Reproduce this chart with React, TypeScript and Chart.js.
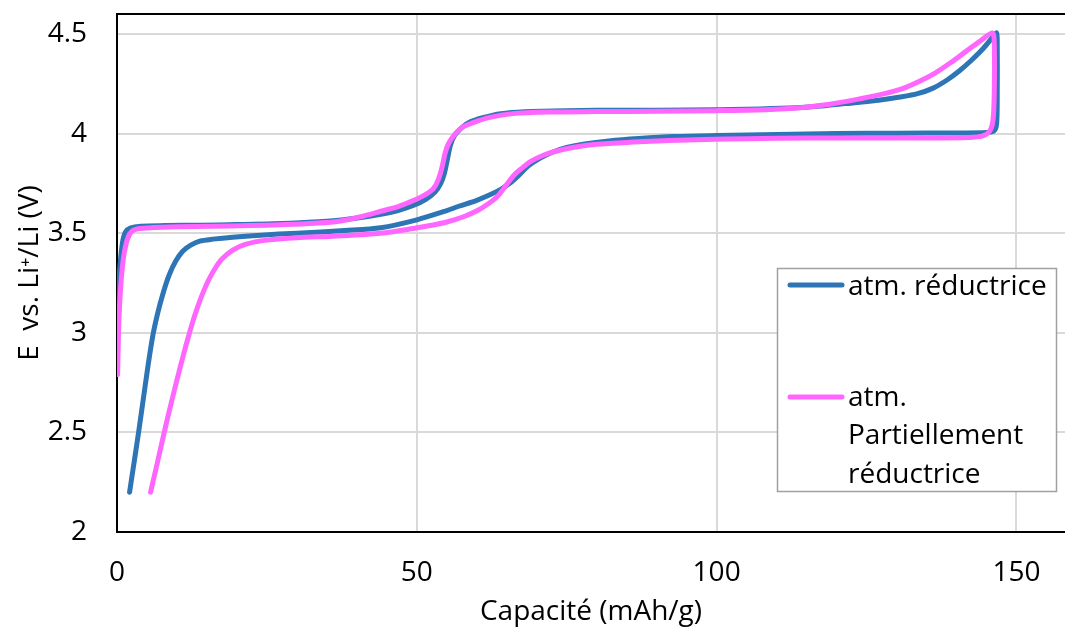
import { useEffect, useRef } from 'react';
import { Chart, registerables } from 'chart.js';

Chart.register(...registerables);

const FONT = "'Open Sans', 'Liberation Sans', sans-serif";

const xTicks = [0, 50, 100, 150];
const yTicks = [2, 2.5, 3, 3.5, 4, 4.5];

const seriesNames = ['atm. réductrice', 'atm. Partiellement réductrice'];
const legendLines = [['atm. réductrice'], ['atm.', 'Partiellement', 'réductrice']];
const seriesColors = ['#2E75B6', '#FF66FF'];

// atm. réductrice — charge up to 4.5 V, then discharge back down to 2.2 V
const reducCap = [
  0, 0.4, 0.9, 1.4, 2.2, 4, 8, 14, 20, 26, 32, 37, 41, 44, 47, 49.5, 51.5, 53, 54, 54.6,
  55.1, 55.6, 56.3, 57.5, 59, 61, 64, 68, 75, 85, 95, 105, 112, 118, 123, 127, 130.6, 133.5,
  136.1, 138.5, 140.5, 142.5, 144.5, 146.2, 146.7,
  146.8, 146.8, 146.7, 146.3, 145, 140, 130, 120, 110, 100, 93, 87, 82, 78, 75, 72.5, 70.5,
  68.5, 67, 65.5, 64, 62, 60, 57, 54.9, 50, 44, 38, 30, 24, 19.3, 16, 13.8, 12.3, 11, 9.8,
  8.7, 7.7, 6.8, 6.0, 5.2, 4.4, 3.6, 2.85, 2.1,
];
const reducVolt = [
  3.1, 3.3, 3.45, 3.505, 3.525, 3.535, 3.538, 3.54, 3.543, 3.547, 3.555, 3.565, 3.58, 3.595,
  3.615, 3.64, 3.67, 3.705, 3.75, 3.8, 3.87, 3.94, 3.99, 4.03, 4.06, 4.08, 4.1, 4.11, 4.115,
  4.117, 4.118, 4.122, 4.128, 4.14, 4.155, 4.167, 4.183, 4.2, 4.228, 4.27, 4.315, 4.368,
  4.428, 4.49, 4.505,
  4.45, 4.2, 4.05, 4.015, 4.005, 4.003, 4.002, 4.0, 3.995, 3.99, 3.985, 3.975, 3.963, 3.948,
  3.93, 3.905, 3.875, 3.835, 3.79, 3.75, 3.72, 3.69, 3.665, 3.635, 3.612, 3.567, 3.527,
  3.513, 3.5, 3.49, 3.48, 3.47, 3.46, 3.44, 3.41, 3.36, 3.29, 3.2, 3.1, 2.99, 2.84, 2.67,
  2.5, 2.35, 2.2,
];

// atm. Partiellement réductrice — charge then discharge
const partCap = [
  0.1, 0.25, 0.45, 0.8, 1.2, 1.8, 2.5, 3.5, 6, 10, 16, 22, 28, 33, 37, 41, 44, 47, 49.5,
  51.5, 52.8, 53.6, 54.2, 54.7, 55.3, 56.3, 57.5, 59.4, 62, 66, 72, 80, 90, 100, 108, 114,
  119.4, 124, 128, 131, 134, 136.5, 139, 141.7, 144, 146,
  146.3, 146.3, 146.1, 145.6, 144.5, 142, 135, 125, 115, 105, 98, 92, 86, 80, 76, 73, 71,
  69, 67.7, 66.5, 65.5, 64.4, 63.3, 61.8, 60.2, 58, 55, 52, 49.4, 44, 36, 30, 25, 21.5,
  19.3, 17.5, 16.4, 15.2, 14, 13, 12, 11, 9.8, 8.5, 7.8, 6.9, 5.6,
];
const partVolt = [
  2.79, 3.0, 3.15, 3.3, 3.4, 3.475, 3.51, 3.522, 3.528, 3.532, 3.535, 3.538, 3.543, 3.55,
  3.56, 3.585, 3.61, 3.635, 3.665, 3.695, 3.725, 3.77, 3.83, 3.9, 3.95, 3.995, 4.03, 4.055,
  4.08, 4.1, 4.108, 4.11, 4.112, 4.115, 4.12, 4.13, 4.15, 4.175, 4.2, 4.225, 4.265, 4.305,
  4.355, 4.415, 4.465, 4.505,
  4.45, 4.2, 4.07, 4.015, 3.99, 3.98, 3.978, 3.978, 3.977, 3.974, 3.97, 3.965, 3.957, 3.946,
  3.93, 3.91, 3.89, 3.86, 3.83, 3.8, 3.765, 3.72, 3.68, 3.645, 3.615, 3.585, 3.556, 3.537,
  3.523, 3.5, 3.485, 3.477, 3.465, 3.445, 3.415, 3.37, 3.325, 3.26, 3.175, 3.09, 2.99, 2.88,
  2.74, 2.58, 2.49, 2.37, 2.2,
];

const toPoints = (xs: number[], ys: number[]) => xs.map((x, i) => ({ x, y: ys[i] }));

// Frame line along the top of the plot area and the boxed legend
const framePlugin = {
  id: 'frameAndLegend',
  afterDraw(chart: any) {
    const { ctx, chartArea } = chart;
    ctx.save();
    ctx.strokeStyle = '#000';
    ctx.lineWidth = 2;
    ctx.beginPath();
    ctx.moveTo(chartArea.left - 1, chartArea.top);
    ctx.lineTo(chartArea.right, chartArea.top);
    ctx.stroke();

    const bx = 777.5, by = 268.5, bw = 279, bh = 223;
    ctx.fillStyle = '#fff';
    ctx.fillRect(bx, by, bw, bh);
    ctx.strokeStyle = '#a0a0a0';
    ctx.lineWidth = 1.5;
    ctx.strokeRect(bx, by, bw, bh);

    const sampleY = [285, 397];
    const firstBaseline = [295, 406];
    const lineStep = 38.3;
    ctx.font = `28px ${FONT}`;
    ctx.textBaseline = 'alphabetic';
    ctx.textAlign = 'left';
    legendLines.forEach((lines, i) => {
      ctx.strokeStyle = seriesColors[i];
      ctx.lineWidth = 5;
      ctx.lineCap = 'round';
      ctx.beginPath();
      ctx.moveTo(790, sampleY[i]);
      ctx.lineTo(842, sampleY[i]);
      ctx.stroke();
      ctx.fillStyle = '#000';
      lines.forEach((t, j) => ctx.fillText(t, 848, firstBaseline[i] + j * lineStep));
    });
    ctx.restore();
  },
};

export default function App() {
  const canvasRef = useRef<HTMLCanvasElement | null>(null);

  useEffect(() => {
    const canvas = canvasRef.current;
    if (!canvas) return;
    const chart = new Chart(canvas, {
      type: 'scatter',
      data: {
        datasets: [
          {
            label: seriesNames[0],
            data: toPoints(reducCap, reducVolt),
            borderColor: seriesColors[0],
            backgroundColor: seriesColors[0],
            order: 2,
          },
          {
            label: seriesNames[1],
            data: toPoints(partCap, partVolt),
            borderColor: seriesColors[1],
            backgroundColor: seriesColors[1],
            order: 1,
          },
        ],
      },
      options: {
        responsive: false,
        animation: false,
        layout: { padding: { top: 14, right: 0, bottom: 0, left: 0 } },
        datasets: {
          scatter: {
            showLine: true,
            borderWidth: 5,
            pointRadius: 0,
            pointHoverRadius: 0,
            tension: 0.3,
            borderCapStyle: 'round',
            borderJoinStyle: 'round',
          },
        } as any,
        plugins: {
          legend: { display: false },
          tooltip: { enabled: false },
        },
        scales: {
          x: {
            type: 'linear',
            min: 0,
            max: 158.1,
            afterBuildTicks: (s: any) => {
              s.ticks = xTicks.map((v) => ({ value: v }));
            },
            afterFit: (s: any) => {
              s.height = 102;
              s.paddingLeft = 0;
              s.paddingRight = 0;
            },
            grid: { color: '#D9D9D9', lineWidth: 2, drawTicks: false },
            border: { color: '#000', width: 2 },
            ticks: {
              padding: 24,
              color: '#000',
              font: { family: FONT, size: 28 },
              callback: (v: any) => String(v),
            },
            title: {
              display: true,
              text: 'Capacité (mAh/g)',
              color: '#000',
              font: { family: FONT, size: 28 },
              padding: { top: 0, bottom: 5 },
            },
          },
          y: {
            type: 'linear',
            min: 2,
            max: 4.6,
            afterBuildTicks: (s: any) => {
              s.ticks = yTicks.map((v) => ({ value: v }));
            },
            afterFit: (s: any) => {
              s.width = 117;
              s.paddingTop = 0;
              s.paddingBottom = 0;
            },
            grid: { color: '#D9D9D9', lineWidth: 2, drawTicks: false },
            border: { color: '#000', width: 2 },
            ticks: {
              padding: 30,
              color: '#000',
              font: { family: FONT, size: 28 },
              callback: (v: any) => String(v),
            },
            title: {
              display: true,
              text: 'E  vs. Li⁺/Li (V)',
              color: '#000',
              font: { family: FONT, size: 28 },
              padding: { top: 13, bottom: 0 },
            },
          },
        },
      },
      plugins: [framePlugin],
    });
    return () => chart.destroy();
  }, []);

  return (
    <div style={{ position: 'fixed', left: 0, top: 0, width: 1065, height: 634, background: '#fff' }}>
      <canvas ref={canvasRef} width={1065} height={634} style={{ display: 'block' }} />
    </div>
  );
}
